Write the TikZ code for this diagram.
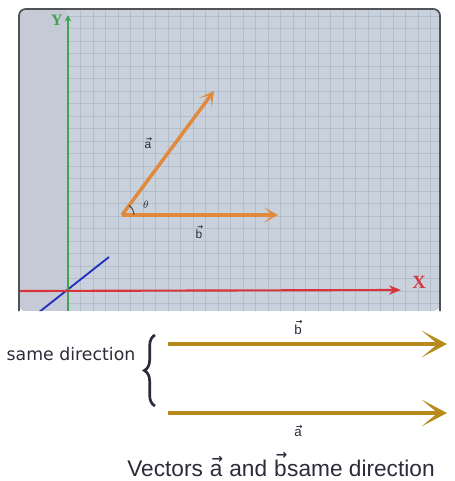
\documentclass[tikz,border=0pt]{standalone}
\usepackage{fontspec}
\setmainfont{Liberation Sans}
\newfontfamily\serifb{Liberation Serif}
\newfontfamily\dejasans{DejaVu Sans}
\usetikzlibrary{arrows.meta,decorations.pathreplacing}
\definecolor{panelbg}{HTML}{C9D2DC}
\definecolor{stripbg}{HTML}{C6C9D6}
\definecolor{gridc}{HTML}{B4BECA}
\definecolor{borderc}{HTML}{505358}
\definecolor{vecor}{HTML}{E08A3E}
\definecolor{goldc}{HTML}{B88A1C}
\definecolor{axgreen}{HTML}{3FA552}
\definecolor{axred}{HTML}{D8343C}
\definecolor{axblue}{HTML}{2430BE}
\definecolor{textc}{HTML}{2B2B3A}
\newcommand{\vlab}[1]{\vbox{\offinterlineskip\halign{\hfil##\hfil\cr\kern1.8pt\scalebox{0.6}{\dejasans\bfseries →}\cr\noalign{\kern0.3pt}#1\cr}}}
\tikzset{
  vecarrow/.style={draw=vecor, line width=2.6pt, -{Stealth[length=11pt,width=12pt,inset=7pt]}},
  goldarrow/.style={draw=goldc, line width=2.6pt, -{Stealth[length=19pt,width=20pt,inset=12pt]}},
  gridline/.style={draw=gridc, line width=0.5pt},
  lbl/.style={inner sep=0pt, text=textc},
}
\begin{document}
\begin{tikzpicture}[x=0.75pt,y=-0.75pt]
\useasboundingbox (0,0) rectangle (454,481);
% panel
\begin{scope}
\clip[rounded corners=5pt] (19,311) -- (19,9) -- (440,9) -- (440,311) -- cycle;
\fill[panelbg] (19,9) rectangle (440,311);
\fill[stripbg] (19,9) rectangle (67,311);
\foreach \i in {1,...,29} \draw[gridline] ({68+12.5*\i},9) -- ({68+12.5*\i},311);
\foreach \j in {-1,...,22} \draw[gridline] (68,{291-12.5*\j}) -- (440,{291-12.5*\j});
\coordinate (bl1) at (38,313);
\coordinate (bl2) at (109,257);
\draw[axblue, line width=1.4pt] (bl1) -- (bl2);
\end{scope}
\draw[borderc, line width=1.3pt, rounded corners=5pt] (19,311) -- (19,9) -- (440,9) -- (440,311);
% axes
\coordinate (yb) at (68,311);
\coordinate (yt) at (68,15);
\draw[axgreen, line width=1.4pt, -{Stealth[length=5pt,width=5pt]}] (yb) -- (yt);
\node[text=axgreen, font=\serifb\bfseries\fontsize{12}{12}\selectfont, inner sep=0pt] (ylab) at (57,20) {Y};
\coordinate (xb) at (20,291);
\coordinate (xt) at (401,290);
\draw[axred, line width=1.6pt, -{Stealth[length=9pt,width=7pt]}] (xb) -- (xt);
\node[text=axred, font=\serifb\bfseries\fontsize{14}{14}\selectfont, inner sep=0pt] (xlab) at (419,282) {X};
% vectors in panel
\coordinate (O) at (122,215);
\coordinate (A) at (214,91);
\coordinate (B) at (278,215);
\draw[vecarrow] (O) -- (A);
\draw[vecarrow] (O) -- (B);
\draw[textc, line width=0.6pt] (134,215) .. controls (134,211.2) and (132.2,207.7) .. (129.1,205.4);
\node[lbl, font=\fontsize{8}{8}\selectfont] (th) at (146,205) {$\theta$};
\node[lbl, font=\fontsize{9}{9}\selectfont] (la) at (148,143) {\vlab{a}};
\node[lbl, font=\fontsize{9}{9}\selectfont] (lb) at (199,232) {\vlab{b}};
% bottom part
\node[lbl, font=\dejasans\fontsize{13}{15}\selectfont] (sd) at (71,354) {same direction};
\coordinate (br1) at (155,406);
\coordinate (br2) at (155,335);
\draw[textc, line width=2pt, decorate, decoration={brace, amplitude=8pt}] (br1) -- (br2);
\coordinate (b1) at (168,344);
\coordinate (b2) at (447,344);
\coordinate (a1) at (168,413);
\coordinate (a2) at (447,413);
\draw[goldarrow] (b1) -- (b2);
\draw[goldarrow] (a1) -- (a2);
\node[lbl, font=\fontsize{10}{10}\selectfont] (lb2) at (298,327) {\vlab{b}};
\node[lbl, font=\fontsize{10}{10}\selectfont] (la2) at (298,431) {\vlab{a}};
\node[lbl, anchor=base, font=\fontsize{17}{19}\selectfont] (cap) at (281,476) {Vectors \vlab{a} and \vlab{b}same direction};
\end{tikzpicture}
\end{document}
